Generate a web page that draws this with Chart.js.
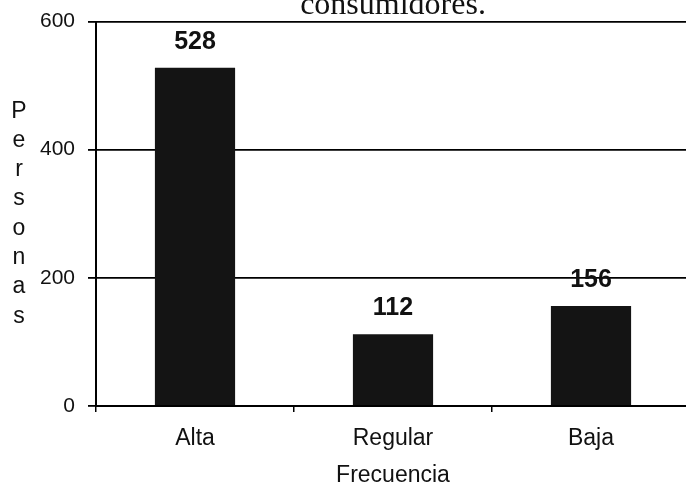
<!DOCTYPE html>
<html>
<head>
<meta charset="utf-8">
<script src="https://cdn.jsdelivr.net/npm/chart.js@4/dist/chart.umd.min.js"></script>
<style>
  html, body { margin: 0; padding: 0; background: #fff; overflow: hidden; }
  #wrap { width: 700px; height: 487px; }
</style>
</head>
<body>
<div id="wrap"><canvas id="chart" width="700" height="487"></canvas></div>
<script>
// data
var categories = ['Alta', 'Regular', 'Baja']
var personas = [528, 112, 156]
var yTicks = [0, 200, 400, 600]
var titleText = 'consumidores.'
var yTitle = 'Personas'
var xTitle = 'Frecuencia'

// title (cut at the top, like the scan) + stacked y title + value labels
var extras = {
  id: 'extras',
  afterDraw(chart) {
    var ctx = chart.ctx
    var area = chart.chartArea
    ctx.save()
    ctx.fillStyle = '#111'
    ctx.textAlign = 'center'
    ctx.textBaseline = 'alphabetic'

    ctx.font = '32px "Liberation Serif", "Times New Roman", serif'
    ctx.fillText(titleText, (area.left + area.right) / 2, area.top - 8)

    ctx.font = '23px "Liberation Sans", Arial, sans-serif'
    ctx.textBaseline = 'middle'
    var step = 29.3
    var mid = (area.top + area.bottom) / 2
    var first = mid - step * (yTitle.length - 1) / 2
    for (var i = 0; i < yTitle.length; i++) {
      ctx.fillText(yTitle[i], 19, first + i * step)
    }

    ctx.font = 'bold 25px "Liberation Sans", Arial, sans-serif'
    ctx.textBaseline = 'alphabetic'
    var meta = chart.getDatasetMeta(0)
    meta.data.forEach(function (bar, i) {
      ctx.fillText(String(personas[i]), bar.x, bar.y - 19)
    })
    ctx.restore()
  }
}

var ctx = document.getElementById('chart')
var myChart = new Chart(ctx, {
  type: 'bar',
  data: {
    labels: categories,
    datasets: [{
      label: yTitle,
      data: personas,
      backgroundColor: '#141414',
      borderColor: '#000',
      borderWidth: 0,
      barPercentage: 0.405,
      categoryPercentage: 1
    }]
  },
  options: {
    responsive: false,
    animation: false,
    layout: { padding: { top: 21.5, right: 10, left: 0, bottom: 0 } },
    plugins: {
      legend: { display: false },
      tooltip: { enabled: false },
      title: { display: false }
    },
    scales: {
      x: {
        offset: true,
        border: { display: true, color: '#000', width: 2 },
        grid: {
          offset: true,
          drawOnChartArea: false,
          drawTicks: true,
          tickLength: 6,
          color: '#000',
          lineWidth: 1.5
        },
        ticks: {
          color: '#111',
          padding: 13,
          font: { family: '"Liberation Sans", Arial, sans-serif', size: 23 }
        },
        title: {
          display: true,
          text: xTitle,
          color: '#111',
          padding: { top: 0, bottom: 0 },
          font: { family: '"Liberation Sans", Arial, sans-serif', size: 23, lineHeight: 1 }
        },
        afterFit(scale) { scale.height = 81; scale.paddingLeft = 0; scale.paddingRight = 0 }
      },
      y: {
        min: 0,
        max: 600,
        afterBuildTicks(scale) { scale.ticks = yTicks.map(function (v) { return { value: v } }) },
        border: { display: true, color: '#000', width: 2 },
        grid: {
          color: '#000',
          lineWidth: 1.8,
          drawTicks: true,
          tickLength: 8
        },
        ticks: {
          color: '#111',
          padding: 13,
          font: { family: '"Liberation Sans", Arial, sans-serif', size: 21 }
        },
        afterFit(scale) { scale.width = 96; scale.paddingTop = 0; scale.paddingBottom = 0 }
      }
    }
  },
  plugins: [extras]
})
</script>
</body>
</html>
